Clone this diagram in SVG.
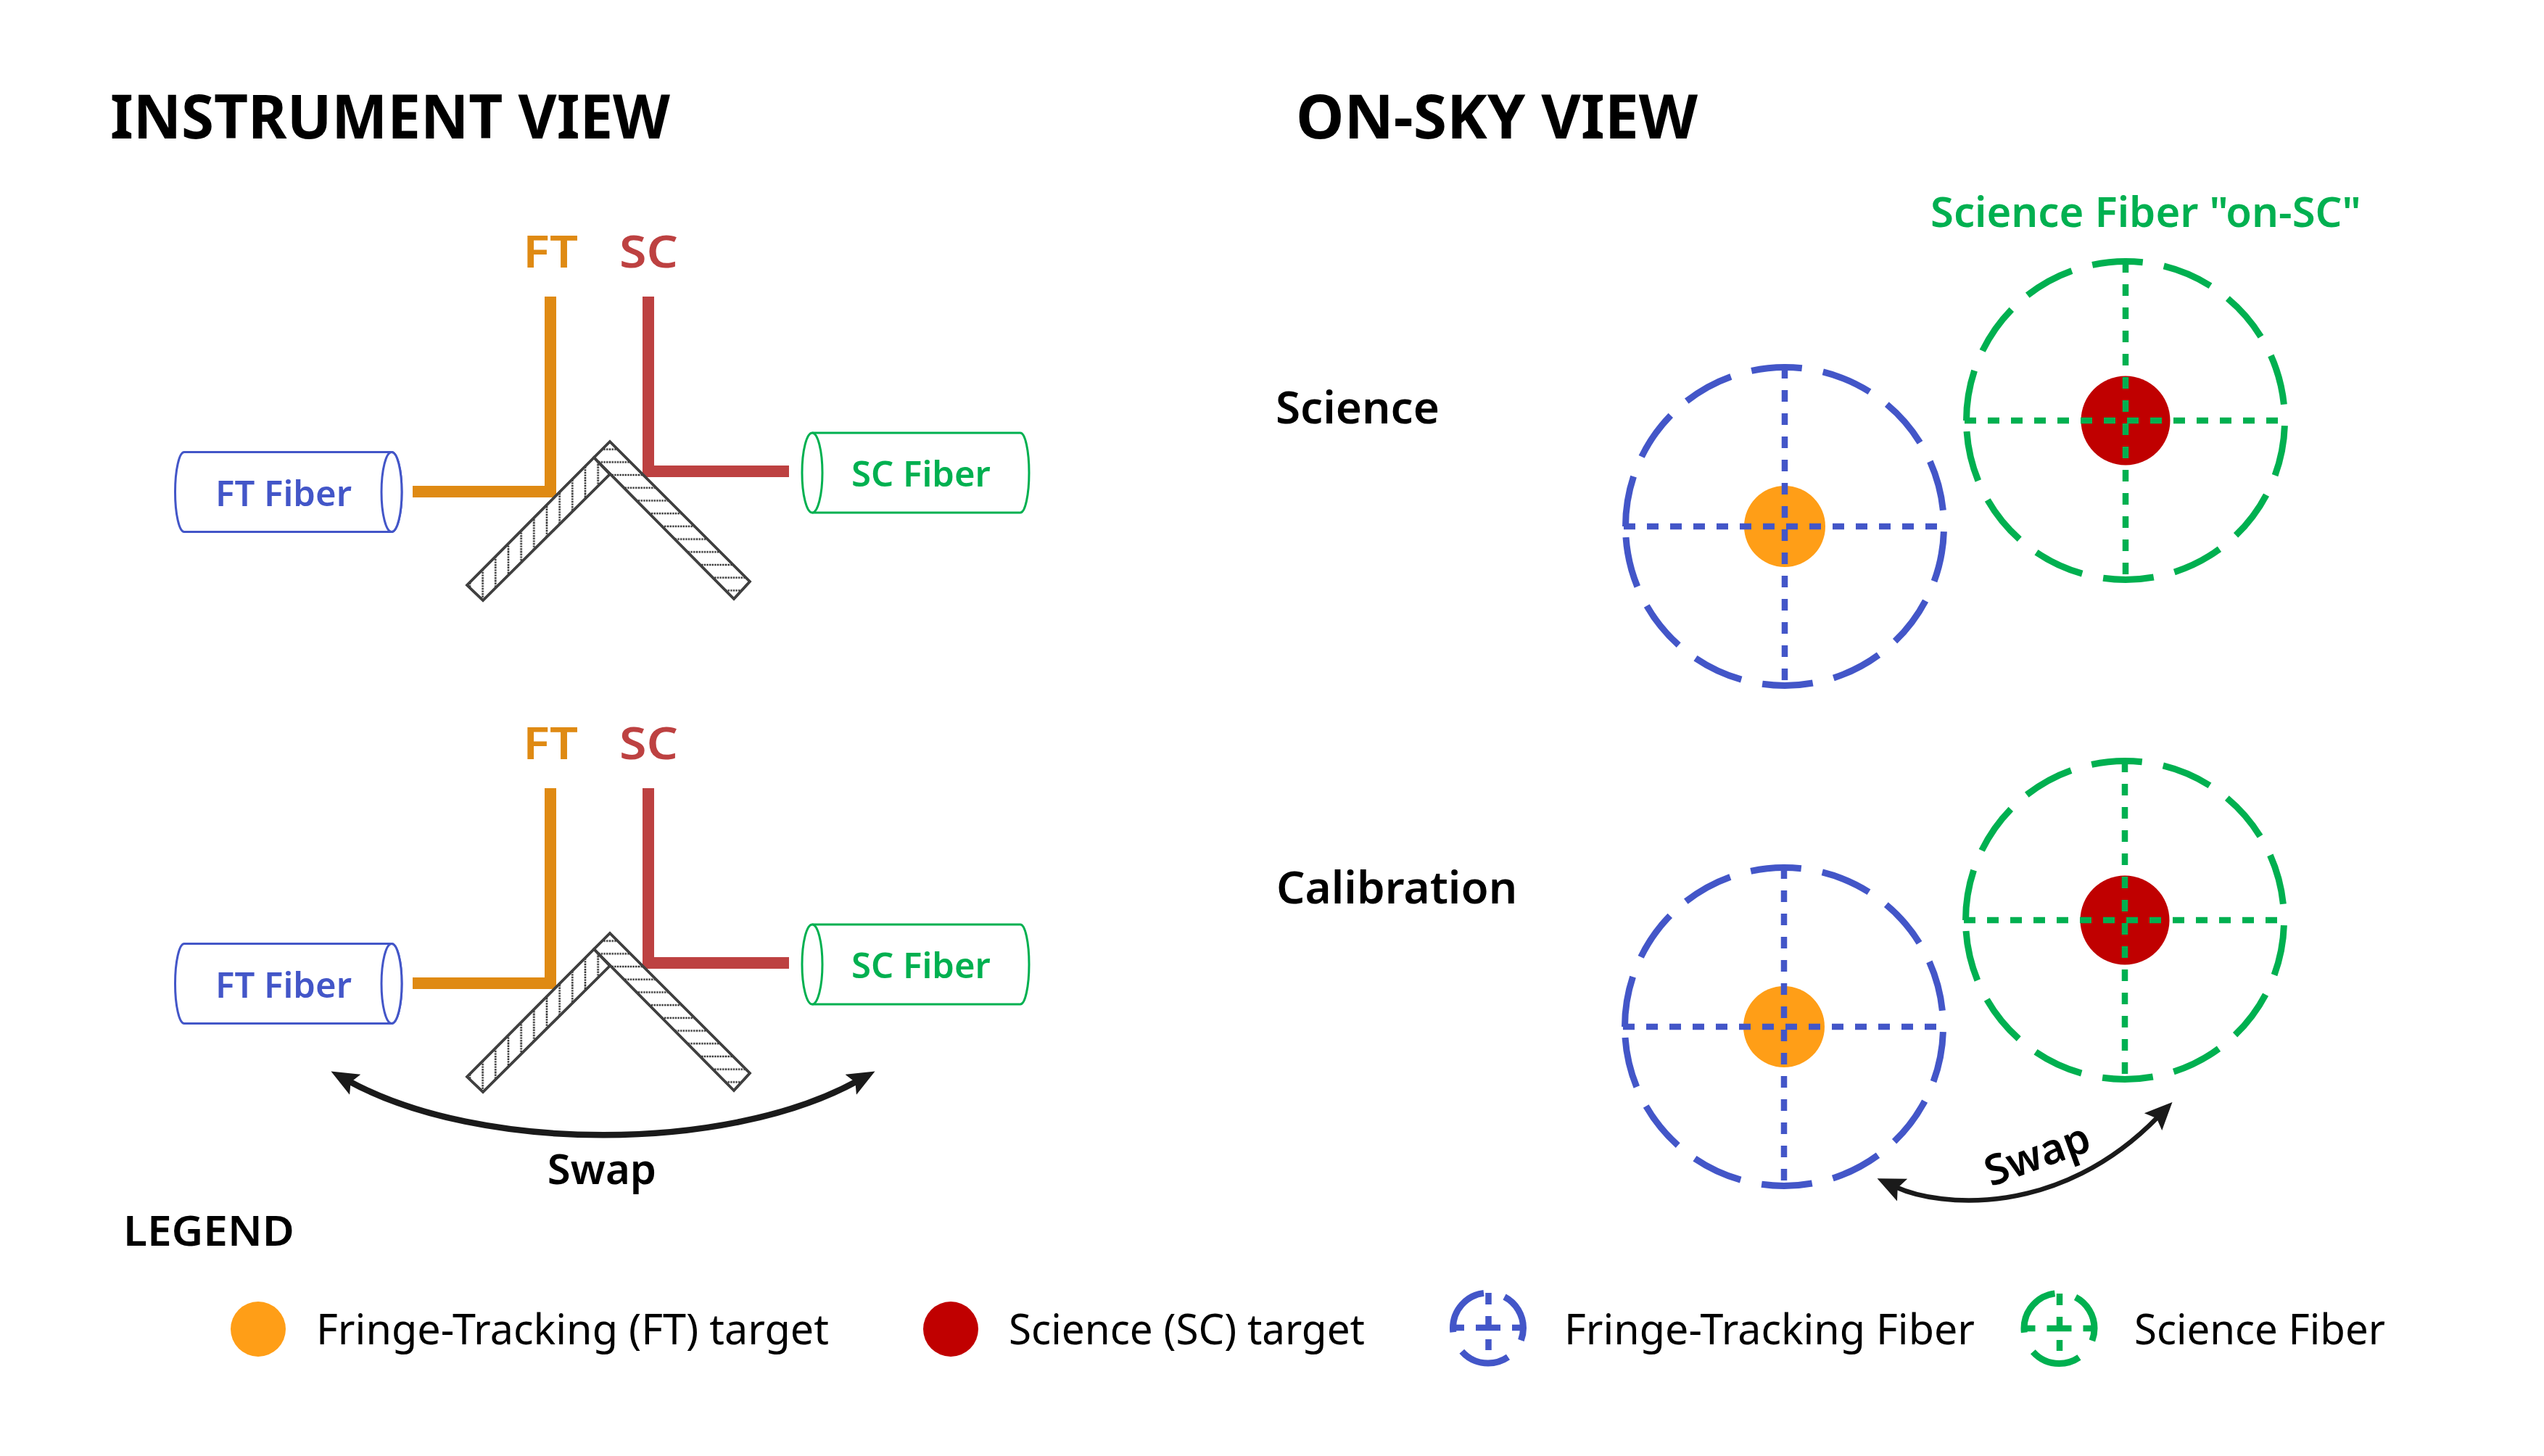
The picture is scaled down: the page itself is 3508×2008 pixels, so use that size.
<svg xmlns="http://www.w3.org/2000/svg" width="3508" height="2008" viewBox="0 0 3508 2008">
<style>
text{font-family:"Noto Sans","Open Sans",sans-serif}
.h{font-size:84px;font-weight:700;fill:#000}
.s{font-size:62px;font-weight:600;fill:#000}
.b{font-size:58px;font-weight:600}
.cyl{font-size:49px;font-weight:600}
.l{font-size:58px;fill:#000}
.beam{fill:none;stroke-width:16}
.or{stroke:#df8a13}.rd{stroke:#bd4141}
.fo{fill:#df8a13}.fr{fill:#bd4141}.fb{fill:#4356c8}.fg{fill:#00b050}
.bl{stroke:#4356c8}.gr{stroke:#00b050}
.cy{fill:#fff;stroke-width:3}
.c{fill:none;stroke-width:9;stroke-dasharray:70 29.5}
.x{fill:none;stroke-width:8.500;stroke-dasharray:16 16}
.m{fill:#fff;stroke:#404040;stroke-width:3.5;stroke-linejoin:miter}
.ar{fill:none;stroke:#1a1a1a}
</style>
<defs>
<pattern id="hh" width="40" height="17.7" patternUnits="userSpaceOnUse" y="9"><line x1="0" x2="40" y1="8.85" y2="8.85" stroke="#333" stroke-width="2.6" stroke-dasharray="2.4 1.2"/></pattern>
<pattern id="hv" width="17.67" height="40" patternUnits="userSpaceOnUse" x="3"><line y1="0" y2="40" x1="8.83" x2="8.83" stroke="#333" stroke-width="2.6" stroke-dasharray="2.4 1.2"/></pattern>
<marker id="ah" viewBox="0 0 40 32" refX="10" refY="16" markerWidth="40" markerHeight="32" markerUnits="userSpaceOnUse" orient="auto-start-reverse"><path d="M0 0L38 16L0 32L7 16Z" fill="#1a1a1a"/></marker>
<marker id="ah2" viewBox="0 0 40 40" refX="10" refY="20" markerWidth="40" markerHeight="40" markerUnits="userSpaceOnUse" orient="auto-start-reverse"><path d="M0 3L38 20L0 37L7 20Z" fill="#1a1a1a"/></marker>
<g id="mirror"><path class="m" d="M841 609L1034 802L1012 826L819 631Z"/><path d="M841 609L1034 802L1012 826L819 631Z" fill="url(#hh)" stroke="#404040" stroke-width="3.5"/><path class="m" d="M819 631L841 654L666 828L644 807Z"/><path d="M819 631L841 654L666 828L644 807Z" fill="url(#hv)" stroke="#404040" stroke-width="3.5"/></g>
<g id="ftcyl"><path class="cy bl" d="M254 623.5H540A14 55 0 0 1 540 733.5H254A12.500 55 0 0 1 254 623.500Z"/><ellipse class="cy bl" cx="540" cy="678.5" rx="14" ry="55"/></g>
<g id="sccyl"><path class="cy gr" d="M1120 597H1407A12 55 0 0 1 1407 707H1120"/><ellipse class="cy gr" cx="1120" cy="652" rx="14" ry="55"/></g>
<g id="fib"><path class="c" d="M-219.500 0A219.500 219.500 0 1 1 219.500 0A219.500 219.500 0 1 1 -219.500 0Z"/><path class="x" d="M-222 0H222M0 -220V220"/></g>
</defs>
<rect width="3508" height="2008" fill="#fff"/>
<g id="titles"><text class="h" x="152" y="191" textLength="772" lengthAdjust="spacingAndGlyphs">INSTRUMENT VIEW</text><text class="h" x="1787" y="191" textLength="554" lengthAdjust="spacingAndGlyphs">ON-SKY VIEW</text></g>

<g id="instrument-science">
<path class="beam or" d="M569 678H759V409"/><path class="beam rd" d="M1088 650H894V409"/>
<use href="#mirror"/><use href="#ftcyl"/><use href="#sccyl"/>
<text class="s fo" x="721" y="369" textLength="76" lengthAdjust="spacingAndGlyphs">FT</text><text class="s fr" x="854" y="369" textLength="81" lengthAdjust="spacingAndGlyphs">SC</text>
<text class="cyl fb" x="391" y="698" text-anchor="middle">FT Fiber</text><text class="cyl fg" x="1270" y="671" text-anchor="middle">SC Fiber</text>
</g>
<g id="instrument-calibration" transform="translate(0 678)">
<path class="beam or" d="M569 678H759V409"/><path class="beam rd" d="M1088 650H894V409"/>
<use href="#mirror"/><use href="#ftcyl"/><use href="#sccyl"/>
<text class="s fo" x="721" y="369" textLength="76" lengthAdjust="spacingAndGlyphs">FT</text><text class="s fr" x="854" y="369" textLength="81" lengthAdjust="spacingAndGlyphs">SC</text>
<text class="cyl fb" x="391" y="698" text-anchor="middle">FT Fiber</text><text class="cyl fg" x="1270" y="671" text-anchor="middle">SC Fiber</text>
</g>
<g id="connectors">
<path class="ar" stroke-width="8.500" d="M481 1491C662 1590 1002 1590 1182 1491" marker-start="url(#ah)" marker-end="url(#ah)"/>
<path class="ar" stroke-width="6.500" d="M2614 1637C2675 1665 2840 1680 2976 1540" marker-start="url(#ah2)" marker-end="url(#ah2)"/>
</g>
<text class="s" x="830" y="1633" text-anchor="middle" style="font-size:58px">Swap</text>
<text class="s" text-anchor="middle" style="font-size:58px" transform="translate(2816 1611) rotate(-20)">Swap</text>

<g id="sky-science">
<text class="s" x="1759" y="584">Science</text>
<text class="b fg" x="2662" y="313">Science Fiber "on-SC"</text>
<circle cx="2461" cy="726" r="56" fill="#ff9e17"/><use href="#fib" x="2461" y="726" stroke="#4356c8"/>
<circle cx="2931" cy="580" r="61.500" fill="#c00000"/><use href="#fib" x="2931" y="580" stroke="#00b050"/>
</g>
<g id="sky-calibration">
<text class="s" x="1760" y="1246">Calibration</text>
<circle cx="2460" cy="1416" r="56" fill="#ff9e17"/><use href="#fib" x="2460" y="1416" stroke="#4356c8"/>
<circle cx="2930" cy="1269" r="61.500" fill="#c00000"/><use href="#fib" x="2930" y="1269" stroke="#00b050"/>
</g>
<g id="legend">
<text class="s" x="170" y="1718" style="font-size:58px" textLength="236" lengthAdjust="spacingAndGlyphs">LEGEND</text>
<circle cx="356" cy="1833" r="38" fill="#ff9e17"/><text class="l" x="436" y="1854" textLength="707" lengthAdjust="spacingAndGlyphs">Fringe-Tracking (FT) target</text>
<circle cx="1311" cy="1833" r="38" fill="#c00000"/><text class="l" x="1391" y="1854" textLength="491" lengthAdjust="spacingAndGlyphs">Science (SC) target</text>
<g stroke="#4356c8"><path class="c" d="M2003.500 1831.500A48.500 48.500 0 1 1 2100.500 1831.500A48.500 48.500 0 1 1 2003.500 1831.500Z"/><path class="x" d="M2000 1831H2104" style="stroke-dasharray:19 16 34 16 19"/><path class="x" d="M2052.500 1783V1862"/></g>
<text class="l" x="2157" y="1854" textLength="566" lengthAdjust="spacingAndGlyphs">Fringe-Tracking Fiber</text>
<g stroke="#00b050"><path class="c" d="M2791 1832A48.500 48.500 0 1 1 2888 1832A48.500 48.500 0 1 1 2791 1832Z"/><path class="x" d="M2787.500 1832H2891.500" style="stroke-dasharray:19 16 34 16 19"/><path class="x" d="M2840 1784V1863"/></g>
<text class="l" x="2943" y="1854" textLength="346" lengthAdjust="spacingAndGlyphs">Science Fiber</text>
</g>
</svg>
